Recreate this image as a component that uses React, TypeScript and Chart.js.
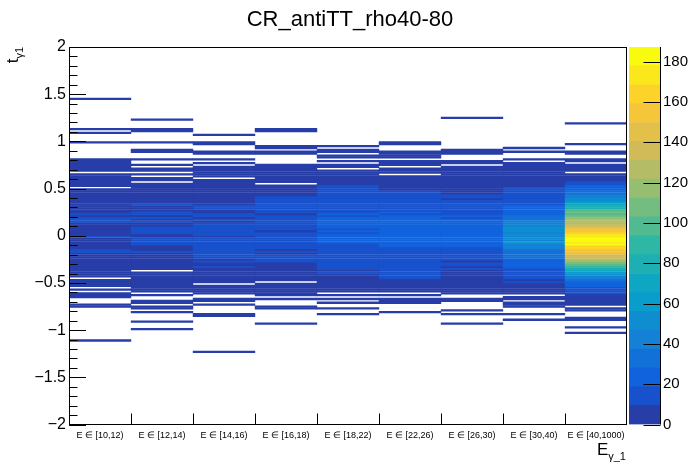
import React, { useEffect, useRef } from "react";
import Chart from "chart.js/auto";

const FONT = "'Liberation Sans', Arial, Helvetica, sans-serif";

const categories = [
  "E ∈ [10,12)",
  "E ∈ [12,14)",
  "E ∈ [14,16)",
  "E ∈ [16,18)",
  "E ∈ [18,22)",
  "E ∈ [22,26)",
  "E ∈ [26,30)",
  "E ∈ [30,40)",
  "E ∈ [40,1000)",
];

// t bins of width 0.02, first entry is the bin [1.48, 1.50), then going down to [-1.30, -1.28)
const binTop = 1.5;
const binStep = 0.02;

const e10_12 = [
  0, 0, 1, 0, 0, 0, 0, 0, 0, 0,
  0, 0, 0, 0, 0, 0, 0, 0, 1, 0,
  1, 0, 0, 0, 0, 3, 0, 0, 0, 0,
  0, 0, 0, 0, 1, 4, 4, 5, 5, 5,
  5, 0, 5, 6, 6, 5, 6, 6, 6, 0,
  6, 7, 7, 7, 7, 6, 7, 7, 8, 8,
  8, 7, 8, 11, 8, 12, 12, 11, 8, 8,
  7, 8, 8, 7, 8, 11, 8, 8, 7, 8,
  8, 7, 11, 12, 8, 7, 7, 6, 7, 6,
  6, 5, 5, 5, 4, 4, 3, 0, 4, 3,
  3, 3, 0, 2, 0, 2, 3, 2, 0, 0,
  0, 3, 3, 0, 0, 0, 0, 0, 0, 0,
  0, 0, 0, 0, 0, 0, 0, 0, 0, 0,
  1, 0, 0, 0, 0, 0, 0, 0, 0, 0,
];

const e12_14 = [
  0, 0, 0, 0, 0, 0, 0, 0, 0, 0,
  0, 0, 0, 1, 0, 0, 0, 0, 1, 2,
  0, 0, 0, 0, 0, 1, 0, 0, 0, 3,
  1, 0, 0, 0, 1, 0, 0, 2, 0, 3,
  3, 0, 2, 0, 4, 4, 0, 5, 5, 6,
  6, 6, 7, 6, 7, 7, 8, 8, 11, 8,
  8, 9, 12, 12, 8, 11, 8, 12, 8, 9,
  12, 13, 12, 11, 8, 9, 12, 11, 11, 12,
  9, 8, 8, 11, 8, 8, 7, 7, 6, 6,
  6, 5, 5, 0, 5, 5, 4, 4, 4, 4,
  3, 4, 3, 3, 3, 0, 2, 0, 0, 3,
  3, 0, 1, 2, 0, 1, 0, 0, 0, 0,
  1, 0, 0, 0, 1, 0, 0, 0, 0, 0,
  0, 0, 0, 0, 0, 0, 0, 0, 0, 0,
];

const e14_16 = [
  0, 0, 0, 0, 0, 0, 0, 0, 0, 0,
  0, 0, 0, 0, 0, 0, 0, 0, 0, 0,
  0, 1, 0, 0, 0, 1, 1, 0, 0, 0,
  1, 2, 0, 0, 3, 0, 3, 0, 1, 4,
  4, 5, 5, 5, 0, 4, 5, 6, 6, 6,
  7, 7, 7, 7, 8, 8, 8, 8, 9, 11,
  11, 9, 8, 12, 12, 9, 11, 9, 12, 13,
  13, 12, 13, 12, 13, 9, 13, 12, 13, 14,
  13, 13, 14, 13, 12, 13, 12, 8, 11, 8,
  8, 11, 8, 7, 7, 6, 6, 5, 5, 5,
  0, 4, 4, 3, 4, 3, 0, 0, 3, 1,
  0, 3, 0, 0, 0, 0, 3, 3, 0, 0,
  0, 0, 0, 0, 0, 0, 0, 0, 0, 0,
  0, 0, 0, 0, 0, 0, 1, 0, 0, 0,
];

const e16_18 = [
  0, 0, 0, 0, 0, 0, 0, 0, 0, 0,
  0, 0, 0, 0, 0, 0, 0, 0, 1, 1,
  0, 0, 0, 0, 0, 0, 0, 1, 1, 0,
  2, 1, 0, 0, 0, 0, 0, 4, 4, 4,
  5, 5, 6, 6, 6, 7, 6, 0, 7, 7,
  7, 8, 8, 8, 11, 12, 11, 12, 12, 11,
  12, 11, 12, 9, 11, 12, 13, 12, 13, 11,
  12, 13, 9, 13, 13, 14, 13, 13, 14, 13,
  13, 12, 9, 12, 9, 11, 11, 12, 11, 8,
  8, 7, 7, 7, 6, 6, 6, 5, 5, 0,
  5, 4, 4, 4, 3, 3, 2, 0, 2, 0,
  0, 0, 1, 2, 0, 0, 0, 0, 0, 0,
  0, 1, 0, 0, 0, 0, 0, 0, 0, 0,
  0, 0, 0, 0, 0, 0, 0, 0, 0, 0,
];

const e18_22 = [
  0, 0, 0, 0, 0, 0, 0, 0, 0, 0,
  0, 0, 0, 0, 0, 0, 0, 0, 0, 0,
  0, 0, 0, 0, 0, 0, 0, 3, 0, 3,
  2, 0, 1, 1, 0, 3, 0, 4, 4, 0,
  5, 5, 6, 6, 7, 7, 8, 8, 11, 12,
  11, 12, 12, 13, 13, 14, 13, 15, 16, 17,
  16, 18, 17, 19, 17, 20, 22, 28, 21, 19,
  20, 18, 19, 17, 20, 22, 24, 21, 19, 17,
  16, 18, 15, 17, 14, 16, 14, 13, 15, 12,
  12, 12, 11, 8, 10, 8, 7, 7, 6, 6,
  5, 5, 5, 4, 4, 0, 3, 0, 3, 0,
  2, 0, 0, 3, 0, 0, 1, 0, 0, 0,
  0, 0, 0, 0, 0, 0, 0, 0, 0, 0,
  0, 0, 0, 0, 0, 0, 0, 0, 0, 0,
];

const e22_26 = [
  0, 0, 0, 0, 0, 0, 0, 0, 0, 0,
  0, 0, 0, 0, 0, 0, 0, 0, 0, 0,
  0, 0, 0, 0, 0, 1, 2, 0, 0, 0,
  1, 2, 1, 3, 0, 3, 3, 2, 0, 4,
  4, 5, 0, 5, 6, 6, 7, 7, 7, 8,
  8, 11, 12, 12, 13, 13, 15, 14, 16, 17,
  18, 17, 19, 16, 20, 22, 21, 23, 24, 22,
  25, 22, 24, 23, 26, 24, 22, 23, 21, 20,
  19, 17, 12, 16, 15, 17, 14, 15, 13, 14,
  13, 12, 12, 11, 12, 11, 12, 11, 8, 7,
  7, 6, 6, 5, 5, 0, 3, 0, 3, 3,
  2, 0, 0, 0, 0, 1, 0, 0, 0, 0,
  0, 0, 0, 0, 0, 0, 0, 0, 0, 0,
  0, 0, 0, 0, 0, 0, 0, 0, 0, 0,
];

const e26_30 = [
  0, 0, 0, 0, 0, 0, 0, 0, 0, 0,
  0, 0, 1, 0, 0, 0, 0, 0, 0, 0,
  0, 0, 0, 0, 0, 0, 0, 0, 0, 3,
  2, 1, 0, 0, 0, 3, 3, 0, 2, 4,
  5, 5, 5, 6, 6, 6, 7, 7, 7, 7,
  8, 8, 8, 11, 12, 9, 11, 13, 14, 13,
  15, 16, 18, 17, 19, 18, 20, 22, 21, 23,
  22, 24, 22, 23, 25, 22, 21, 23, 20, 19,
  21, 16, 12, 15, 13, 12, 14, 12, 9, 12,
  11, 9, 11, 9, 8, 7, 7, 6, 6, 6,
  5, 5, 5, 4, 4, 3, 0, 0, 3, 1,
  0, 0, 0, 0, 1, 0, 1, 0, 0, 0,
  0, 1, 0, 0, 0, 0, 0, 0, 0, 0,
  0, 0, 0, 0, 0, 0, 0, 0, 0, 0,
];

const e30_40 = [
  0, 0, 0, 0, 0, 0, 0, 0, 0, 0,
  0, 0, 0, 0, 0, 0, 0, 0, 0, 0,
  0, 0, 0, 0, 0, 0, 0, 0, 1, 0,
  1, 0, 0, 0, 2, 0, 5, 5, 6, 6,
  7, 7, 7, 8, 8, 8, 8, 8, 9, 11,
  12, 12, 13, 12, 14, 16, 15, 17, 18, 20,
  22, 21, 24, 25, 30, 33, 36, 40, 42, 45,
  56, 48, 52, 46, 50, 44, 48, 45, 58, 42,
  40, 41, 36, 37, 33, 30, 31, 27, 25, 22,
  23, 19, 17, 18, 14, 13, 12, 11, 8, 10,
  8, 7, 6, 6, 5, 5, 0, 4, 3, 0,
  4, 4, 3, 0, 0, 0, 1, 0, 0, 1,
  0, 0, 0, 0, 0, 0, 0, 0, 0, 0,
  0, 0, 0, 0, 0, 0, 0, 0, 0, 0,
];

const e40_1000 = [
  0, 0, 0, 0, 0, 0, 0, 0, 0, 0,
  0, 0, 0, 0, 0, 1, 0, 0, 0, 0,
  0, 0, 0, 0, 0, 0, 1, 0, 0, 0,
  1, 1, 0, 0, 3, 3, 0, 5, 5, 6,
  6, 0, 6, 7, 7, 8, 12, 15, 20, 24,
  27, 30, 33, 38, 42, 48, 55, 62, 70, 75,
  82, 96, 104, 98, 112, 118, 125, 130, 128, 138,
  145, 150, 156, 162, 170, 176, 181, 186, 172, 178,
  165, 168, 158, 154, 148, 140, 132, 124, 116, 106,
  96, 86, 78, 70, 62, 54, 46, 40, 34, 28,
  24, 20, 16, 13, 11, 10, 8, 7, 6, 5,
  5, 4, 0, 3, 3, 0, 0, 0, 1, 2,
  0, 0, 0, 1, 0, 0, 1, 0, 0, 0,
  0, 0, 0, 0, 0, 0, 0, 0, 0, 0,
];

const columns = [e10_12, e12_14, e14_16, e16_18, e18_22, e22_26, e26_30, e30_40, e40_1000];

const zMax = 187.2;
const nLevels = 20;
const paletteTicks = [0, 20, 40, 60, 80, 100, 120, 140, 160, 180];

// ROOT kBird palette stops
const birdR = [0.2082, 0.0592, 0.078, 0.0232, 0.1802, 0.5301, 0.8186, 0.9956, 0.9764];
const birdG = [0.1664, 0.3599, 0.5041, 0.6419, 0.7178, 0.7492, 0.7328, 0.7862, 0.9832];
const birdB = [0.5293, 0.8684, 0.8385, 0.7914, 0.6425, 0.4662, 0.3499, 0.1968, 0.0539];

function bird(f: number) {
  const pos = Math.max(0, Math.min(1, f)) * 8;
  const k = Math.min(7, Math.floor(pos));
  const t = pos - k;
  const c = (a: number[]) => Math.round(255 * (a[k] + (a[k + 1] - a[k]) * t));
  return `rgb(${c(birdR)},${c(birdG)},${c(birdB)})`;
}

function levelColor(level: number) {
  const idx = Math.floor(((level + 0.99) * 255) / nLevels);
  return bird(idx / 254);
}

function valueColor(v: number) {
  const level = Math.min(nLevels - 1, Math.floor((v / zMax) * nLevels));
  return levelColor(level);
}

const fmtTick = (v: number) => (v < 0 ? "\u2212" + Math.abs(v) : String(v));

const frameTicks = {
  id: "frameTicks",
  afterDatasetsDraw(chart: any) {
    const { ctx, chartArea: a, scales } = chart;
    const x = scales.x;
    const y = scales.y;
    ctx.save();
    ctx.strokeStyle = "#000";
    ctx.lineWidth = 1;
    ctx.beginPath();
    for (let k = -20; k <= 20; k++) {
      const py = Math.round(y.getPixelForValue(k / 10)) + 0.5;
      const len = k % 5 === 0 ? 17 : 8.5;
      ctx.moveTo(a.left, py);
      ctx.lineTo(a.left + len, py);
    }
    for (let i = 1; i < categories.length; i++) {
      const px = Math.round((x.getPixelForValue(i - 1) + x.getPixelForValue(i)) / 2) + 0.5;
      ctx.moveTo(px, a.bottom);
      ctx.lineTo(px, a.bottom - 11);
    }
    ctx.stroke();
    ctx.strokeRect(
      Math.round(a.left) + 0.5,
      Math.round(a.top) + 0.5,
      Math.round(a.right) - Math.round(a.left) - 1,
      Math.round(a.bottom) - Math.round(a.top) - 1
    );
    ctx.restore();
  },
};

const paletteAxis = {
  id: "paletteAxis",
  afterDatasetsDraw(chart: any) {
    const { ctx, chartArea: a, scales } = chart;
    const y = scales.y;
    ctx.save();
    ctx.strokeStyle = "#000";
    ctx.lineWidth = 1;
    ctx.beginPath();
    const rx = Math.round(a.right) - 0.5;
    ctx.moveTo(rx, a.top);
    ctx.lineTo(rx, a.bottom);
    paletteTicks.forEach((v) => {
      const py = Math.round(y.getPixelForValue(v)) + 0.5;
      ctx.moveTo(rx, py);
      ctx.lineTo(rx - 17, py);
    });
    ctx.stroke();
    ctx.restore();
  },
};

const App: React.FC = () => {
  const mainRef = useRef<HTMLCanvasElement>(null);
  const paletteRef = useRef<HTMLCanvasElement>(null);

  useEffect(() => {
    let mainChart: Chart | null = null;
    let paletteChart: Chart | null = null;

    if (mainRef.current) {
      const datasets: any[] = [];
      const nBins = columns[0].length;
      for (let j = 0; j < nBins; j++) {
        if (!columns.some((col) => col[j] > 0)) continue;
        const lo = binTop - binStep * (j + 1);
        const hi = binTop - binStep * j;
        datasets.push({
          data: columns.map((col) => (col[j] > 0 ? [lo, hi] : null)),
          backgroundColor: columns.map((col) => valueColor(col[j])),
          borderWidth: 0,
          barPercentage: 1,
          categoryPercentage: 1,
          grouped: false,
          inflateAmount: 0.2,
        });
      }

      mainChart = new Chart(mainRef.current, {
        type: "bar",
        data: { labels: categories, datasets },
        options: {
          animation: false,
          responsive: false,
          maintainAspectRatio: false,
          layout: { padding: { top: 47, right: 69, left: 0, bottom: 0 } },
          plugins: {
            legend: { display: false },
            tooltip: { enabled: false },
          },
          scales: {
            x: {
              type: "category",
              offset: true,
              grid: { display: false, drawTicks: false },
              border: { display: false },
              ticks: {
                autoSkip: false,
                maxRotation: 0,
                minRotation: 0,
                padding: 6,
                color: "#000",
                font: { family: FONT, size: 9 },
              },
              afterFit: (s: any) => {
                s.height = 47.5;
              },
            },
            y: {
              type: "linear",
              min: -2,
              max: 2,
              grid: { display: false, drawTicks: false },
              border: { display: false },
              ticks: {
                stepSize: 0.5,
                padding: 3,
                color: "#000",
                font: { family: FONT, size: 16 },
                callback: (v: any) => fmtTick(Number(v)),
              },
              afterFit: (s: any) => {
                s.width = 69;
              },
            },
          },
        } as any,
        plugins: [frameTicks],
      });
    }

    if (paletteRef.current) {
      const dz = zMax / nLevels;
      const datasets: any[] = [];
      for (let i = 0; i < nLevels; i++) {
        datasets.push({
          data: [[i * dz, (i + 1) * dz]],
          backgroundColor: levelColor(i),
          borderWidth: 0,
          barPercentage: 1,
          categoryPercentage: 1,
          grouped: false,
          inflateAmount: 0.3,
        });
      }
      paletteChart = new Chart(paletteRef.current, {
        type: "bar",
        data: { labels: [""], datasets },
        options: {
          animation: false,
          responsive: false,
          maintainAspectRatio: false,
          layout: { padding: { top: 47, bottom: 47.5, left: 0, right: 0 } },
          plugins: {
            legend: { display: false },
            tooltip: { enabled: false },
          },
          scales: {
            x: { display: false },
            y: {
              position: "right",
              min: 0,
              max: zMax,
              grid: { display: false, drawTicks: false },
              border: { display: false },
              ticks: {
                padding: 2,
                color: "#000",
                font: { family: FONT, size: 15 },
              },
              afterBuildTicks: (s: any) => {
                s.ticks = paletteTicks.map((v) => ({ value: v }));
              },
              afterFit: (s: any) => {
                s.width = 35;
              },
            },
          },
        } as any,
        plugins: [paletteAxis],
      });
    }

    return () => {
      if (mainChart) mainChart.destroy();
      if (paletteChart) paletteChart.destroy();
    };
  }, []);

  return (
    <div
      style={{
        position: "fixed",
        left: 0,
        top: 0,
        width: 696,
        height: 472,
        background: "#fff",
        fontFamily: FONT,
        color: "#000",
      }}
    >
      <canvas
        ref={mainRef}
        width={696}
        height={472}
        style={{ position: "absolute", left: 0, top: 0, width: 696, height: 472 }}
      />
      <canvas
        ref={paletteRef}
        width={67}
        height={472}
        style={{ position: "absolute", left: 629, top: 0, width: 67, height: 472 }}
      />
      <div
        style={{
          position: "absolute",
          left: 0,
          top: 8,
          width: 700,
          textAlign: "center",
          fontSize: 22,
          lineHeight: "22px",
          whiteSpace: "nowrap",
        }}
      >
        CR_antiTT_rho40-80
      </div>
      <div
        style={{
          position: "absolute",
          left: 0,
          top: 441,
          width: 626,
          textAlign: "right",
          fontSize: 17,
          lineHeight: "17px",
          whiteSpace: "nowrap",
        }}
      >
        E
        <span style={{ fontSize: 11, position: "relative", top: 5 }}>γ_1</span>
      </div>
      <div
        style={{
          position: "absolute",
          left: 4,
          top: 147,
          width: 100,
          height: 17,
          textAlign: "right",
          fontSize: 17,
          lineHeight: "17px",
          whiteSpace: "nowrap",
          transform: "rotate(-90deg)",
          transformOrigin: "0 0",
        }}
      >
        t<span style={{ fontSize: 11, position: "relative", top: 5 }}>γ1</span>
      </div>
    </div>
  );
};

export default App;
